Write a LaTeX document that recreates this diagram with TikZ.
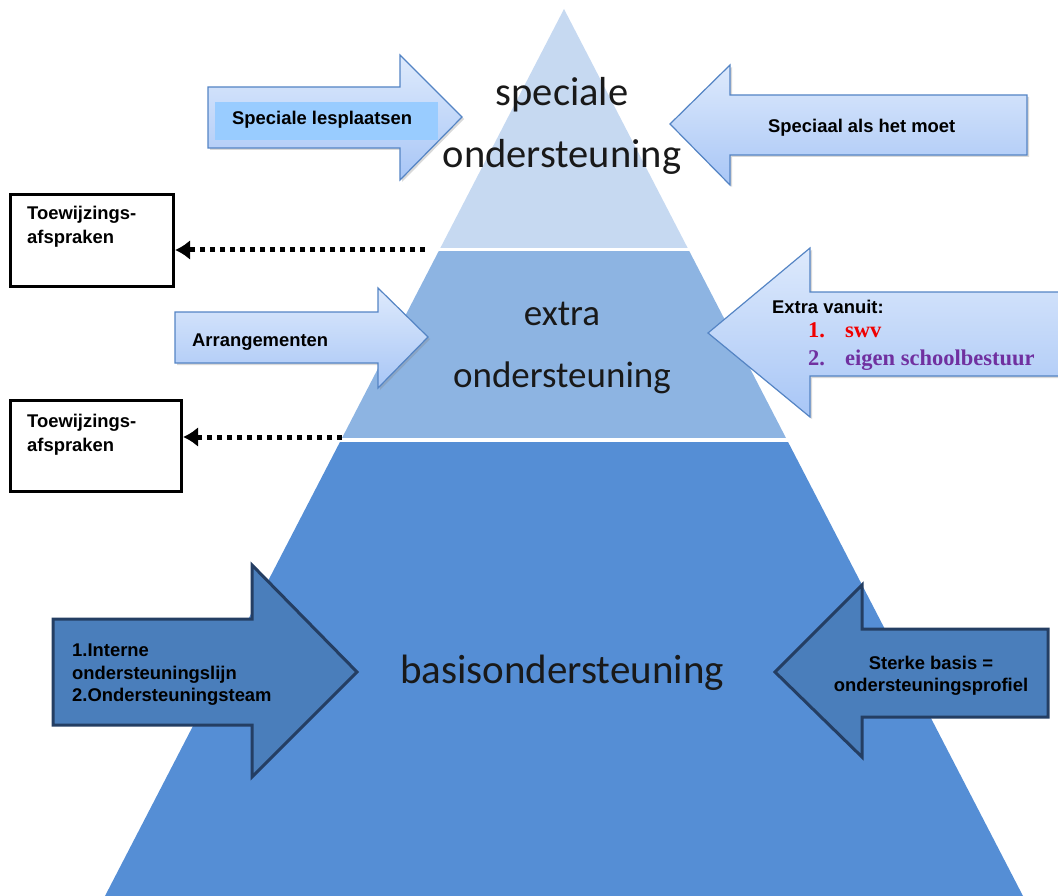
\documentclass[tikz,border=0pt]{standalone}
\usepackage{fontspec}
\setmainfont{Carlito}
\newfontfamily\arialfont{Liberation Sans}
\newfontfamily\cambriafont{Liberation Serif}
\usetikzlibrary{positioning,arrows.meta,shadows}

\definecolor{topLayer}{RGB}{198,217,241}
\definecolor{midLayer}{RGB}{141,180,226}
\definecolor{botLayer}{RGB}{85,142,213}
\definecolor{lightEdge}{RGB}{84,132,196}
\definecolor{lightTop}{RGB}{222,234,252}
\definecolor{lightBot}{RGB}{168,198,246}
\definecolor{innerBox}{RGB}{153,204,255}
\definecolor{darkFill}{RGB}{74,126,187}
\definecolor{darkEdge}{RGB}{36,62,99}
\definecolor{swvRed}{RGB}{240,0,0}
\definecolor{bestuurPurple}{RGB}{112,48,160}

\begin{document}
\begin{tikzpicture}[
      x=1pt, y=-1pt,
      >={Latex[length=15pt,width=20pt]}
    ]

    \tikzstyle{lightarrow} = [draw=lightEdge, line width=1.2pt, top color=lightTop, bottom color=lightBot, drop shadow={shadow xshift=2pt, shadow yshift=-2pt, opacity=0.3}]
    \tikzstyle{darkarrow} = [draw=darkEdge, line width=3pt, fill=darkFill]
    \tikzstyle{toewbox} = [rectangle, draw=black, line width=3pt, fill=white, inner sep=0pt]
    \tikzstyle{arialtext} = [font=\arialfont\bfseries\fontsize{18.4}{22.5}\selectfont, inner sep=0pt]
    \tikzstyle{boxtext} = [arialtext, align=left, font=\arialfont\bfseries\fontsize{18.4}{24}\selectfont]
    \tikzstyle{serifline} = [font=\cambriafont\bfseries\fontsize{22.5}{28}\selectfont, inner sep=0pt]
    \tikzstyle{dotline} = [->, line width=5pt, dash pattern=on 5pt off 5pt]
    \tikzstyle{layerlabel} = [align=center, text=black!90, inner sep=0pt]

    \useasboundingbox (0,0) rectangle (1058,896);

    % pyramid, one triangle cut into three bands
    \coordinate (apex) at (564,9);
    \coordinate (baseL) at (105,896);
    \coordinate (baseR) at (1023,896);
    \begin{scope}
      \clip (0,0) rectangle (1058,248);
      \fill[topLayer] (apex) -- (baseL) -- (baseR) -- cycle;
    \end{scope}
    \begin{scope}
      \clip (0,252) rectangle (1058,437.5);
      \fill[midLayer] (apex) -- (baseL) -- (baseR) -- cycle;
    \end{scope}
    \begin{scope}
      \clip (0,442) rectangle (1058,896);
      \fill[botLayer] (apex) -- (baseL) -- (baseR) -- cycle;
    \end{scope}

    \node [layerlabel, anchor=base, font=\fontsize{40.5}{62}\selectfont] (speciale) at (562,168) {speciale\\ondersteuning};
    \node [layerlabel, anchor=base, font=\fontsize{37}{62}\selectfont] (extra) at (562,387) {extra\\ondersteuning};
    \node [layerlabel, anchor=base, font=\fontsize{41}{62}\selectfont] (basis) at (562,683) {basisondersteuning};

    % light arrows
    \draw[lightarrow] (208,87) -- (400,87) -- (400,55) -- (462,117) -- (400,180) -- (400,148) -- (208,148) -- cycle;
    \fill[innerBox] (215,102) rectangle (438,140);
    \node [arialtext, anchor=base west] (lesplaatsen) at (232,124.5) {Speciale lesplaatsen};

    \draw[lightarrow] (1027,95) -- (730,95) -- (730,65) -- (670,124) -- (730,185) -- (730,155) -- (1027,155) -- cycle;
    \node [arialtext, anchor=base west] (moet) at (768,133) {Speciaal als het moet};

    \draw[lightarrow] (175,312) -- (378,312) -- (378,288) -- (428,337) -- (378,388) -- (378,363) -- (175,363) -- cycle;
    \node [arialtext, anchor=base west] (arrangementen) at (192,346) {Arrangementen};

    \draw[lightarrow] (1064,292) -- (810,292) -- (810,248) -- (708,333) -- (810,417) -- (810,376) -- (1064,376) -- cycle;
    \node [arialtext, anchor=base west] (vanuit) at (772,313) {Extra vanuit:};
    \node [serifline, anchor=base west, text=swvRed] (swv) at (808,337) {\makebox[37pt][l]{1.}swv};
    \node [serifline, anchor=base west, text=bestuurPurple] (bestuur) at (808,365) {\makebox[37pt][l]{2.}eigen schoolbestuur};

    % dark arrows
    \draw[darkarrow] (53,619) -- (252,619) -- (252,565) -- (357,672) -- (252,777) -- (252,725) -- (53,725) -- cycle;
    \node [boxtext, anchor=north west, font=\arialfont\bfseries\fontsize{18.4}{22.5}\selectfont] (interne) at (72,644) {1.Interne\\ondersteuningslijn\\2.Ondersteuningsteam};

    \draw[darkarrow] (1048,629) -- (862,629) -- (862,585) -- (775,672) -- (862,757) -- (862,717) -- (1048,717) -- cycle;
    \node [arialtext, align=center, anchor=north, font=\arialfont\bfseries\fontsize{18.4}{21.5}\selectfont] (profiel) at (931,656) {Sterke basis =\\ondersteuningsprofiel};

    % toewijzing boxes
    \node [toewbox, minimum width=163pt, minimum height=92pt] (toew1) at (92,240.5) {};
    \node [boxtext] (toew1txt) [below right=12.8pt and 18pt of toew1.north west] {Toewijzings-\\afspraken};
    \node [toewbox, minimum width=171pt, minimum height=91pt] (toew2) at (96,446) {};
    \node [boxtext] (toew2txt) [below right=14.5pt and 18pt of toew2.north west] {Toewijzings-\\afspraken};

    \coordinate (gap1) at (425,250);
    \coordinate (gap2) at (342,437);
    \draw [dotline] (gap1) -- (toew1.east |- gap1);
    \draw [dotline] (gap2) -- (toew2.east |- gap2);

\end{tikzpicture}
\end{document}
